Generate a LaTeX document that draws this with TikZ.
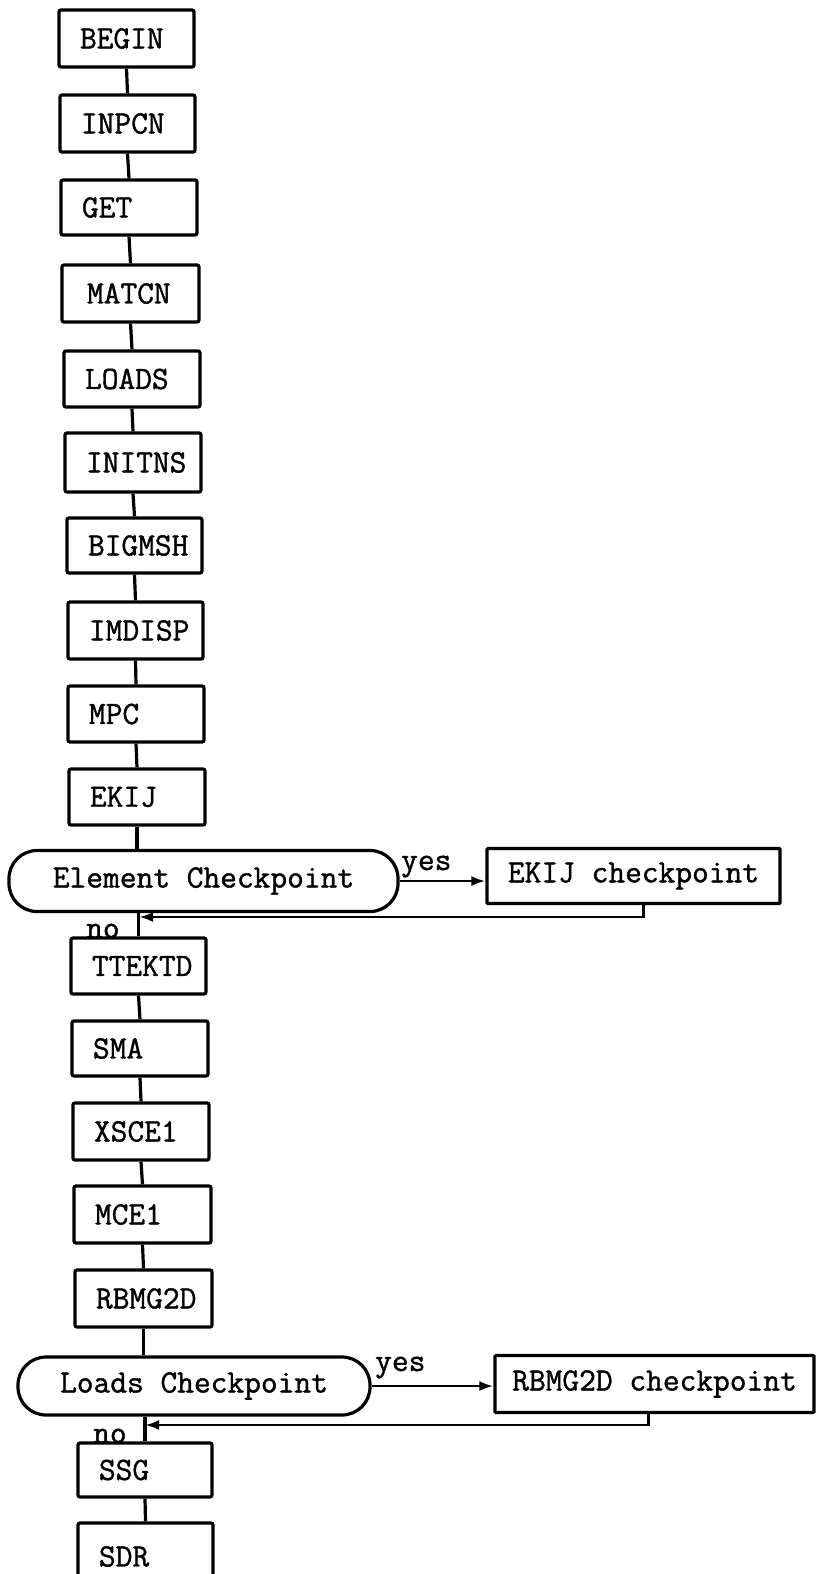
\documentclass[tikz,border=0pt]{standalone}
\usepackage{fontspec}
\newfontfamily\tyfont[RawFeature={embolden=1.2}]{Latin Modern Mono}
\usetikzlibrary{arrows.meta}
\tikzset{
  tt/.style={font=\tyfont\fontsize{32.5}{32.5}\selectfont},
  mbox/.style={tt, draw, line width=3.2pt, rounded corners=2pt, inner xsep=21pt, inner ysep=0pt, align=left},
  cpbox/.style={tt, draw, line width=3.2pt, rounded corners=1pt, inner sep=0pt, align=center},
  ovalbox/.style={tt, draw, line width=3.2pt, rounded corners=28pt, inner sep=0pt, align=center},
  conn/.style={line width=3.2pt},
  arr/.style={line width=2.8pt, -{Latex[length=14pt,width=10pt]}},
  lbl/.style={tt, inner sep=0pt, anchor=base west}
}
\begin{document}
\begin{tikzpicture}[x=1pt,y=-1pt]
\useasboundingbox (0,0) rectangle (816,1574);
\clip (0,0) rectangle (816,1574);
\fill[white] (0,0) rectangle (816,1574);
% main column
\node[mbox, text width=93pt, minimum height=57pt] (begin) at (126.5,38.5) {BEGIN};
\node[mbox, text width=93pt, minimum height=57pt] (inpcn) at (127.5,123.5) {INPCN};
\node[mbox, text width=94pt, minimum height=55pt] (get) at (129,207.5) {GET};
\node[mbox, text width=95pt, minimum height=57pt] (matcn) at (130.5,293.5) {\hspace{4pt}MATCN};
\node[mbox, text width=94pt, minimum height=56pt] (loads) at (132,379) {LOADS};
\node[mbox, text width=94pt, minimum height=59pt] (initns) at (133,462.5) {INITNS};
\node[mbox, text width=93pt, minimum height=55pt] (bigmsh) at (134.5,545.5) {BIGMSH};
\node[mbox, text width=93pt, minimum height=57pt] (imdisp) at (135.5,630.5) {IMDISP};
\node[mbox, text width=94pt, minimum height=56pt] (mpc) at (136,714) {MPC};
\node[mbox, text width=94pt, minimum height=56pt] (ekij) at (137,797) {EKIJ};
\node[ovalbox, minimum width=389pt, minimum height=61pt] (elem) at (203.5,881) {Element Checkpoint};
\node[cpbox, minimum width=293pt, minimum height=55pt] (ekijcp) at (633.5,876) {EKIJ checkpoint};
\node[mbox, text width=93pt, minimum height=56pt] (ttektd) at (138.5,966) {TTEKTD};
\node[mbox, text width=94pt, minimum height=55pt] (sma) at (140,1048.5) {SMA};
\node[mbox, text width=94pt, minimum height=57pt] (xsce) at (141,1131.5) {XSCE1};
\node[mbox, text width=95pt, minimum height=57pt] (mce) at (142.5,1214.5) {MCE1};
\node[mbox, text width=95pt, minimum height=57pt] (rbmg) at (143.5,1298.5) {RBMG2D};
\node[ovalbox, minimum width=352pt, minimum height=58pt] (loadscp) at (194,1386) {Loads Checkpoint};
\node[cpbox, minimum width=319pt, minimum height=57pt] (rbmgcp) at (654.5,1384) {RBMG2D checkpoint};
\node[mbox, text width=92pt, minimum height=54pt] (ssg) at (145,1470) {SSG};
\node[mbox, text width=93pt, minimum height=67pt] (sdr) at (145.5,1556.5) {SDR};
% labels
\node[lbl] (yes1) at (401,870) {yes};
\node[lbl] (no1) at (86,938) {no};
\node[lbl] (yes2) at (375,1371) {yes};
\node[lbl] (no2) at (93,1443) {no};
% connectors
\draw[conn] (begin.south) -- (inpcn.north);
\draw[conn] (inpcn.south) -- (get.north);
\draw[conn] (get.south) -- (matcn.north);
\draw[conn] (matcn.south) -- (loads.north);
\draw[conn] (loads.south) -- (initns.north);
\draw[conn] (initns.south) -- (bigmsh.north);
\draw[conn] (bigmsh.south) -- (imdisp.north);
\draw[conn] (imdisp.south) -- (mpc.north);
\draw[conn] (mpc.south) -- (ekij.north);
\draw[conn] (ekij.south) -- (ekij.south |- elem.north);
\draw[conn] (ttektd.north |- elem.south) -- (ttektd.north);
\draw[arr] (elem.east) -- (elem.east -| ekijcp.west);
\coordinate (ret1) at (139,917);
\draw[arr] ([xshift=10pt]ekijcp.south) |- (ret1);
\draw[conn] (ttektd.south) -- (sma.north);
\draw[conn] (sma.south) -- (xsce.north);
\draw[conn] (xsce.south) -- (mce.north);
\draw[conn] (mce.south) -- (rbmg.north);
\draw[conn] (rbmg.south) -- (rbmg.south |- loadscp.north);
\draw[conn] (ssg.north |- loadscp.south) -- (ssg.north);
\draw[arr] (loadscp.east) -- (loadscp.east -| rbmgcp.west);
\coordinate (ret2) at (145,1425);
\draw[arr] ([xshift=-6pt]rbmgcp.south) |- (ret2);
\draw[conn] (ssg.south) -- (sdr.north);
\end{tikzpicture}
\end{document}
